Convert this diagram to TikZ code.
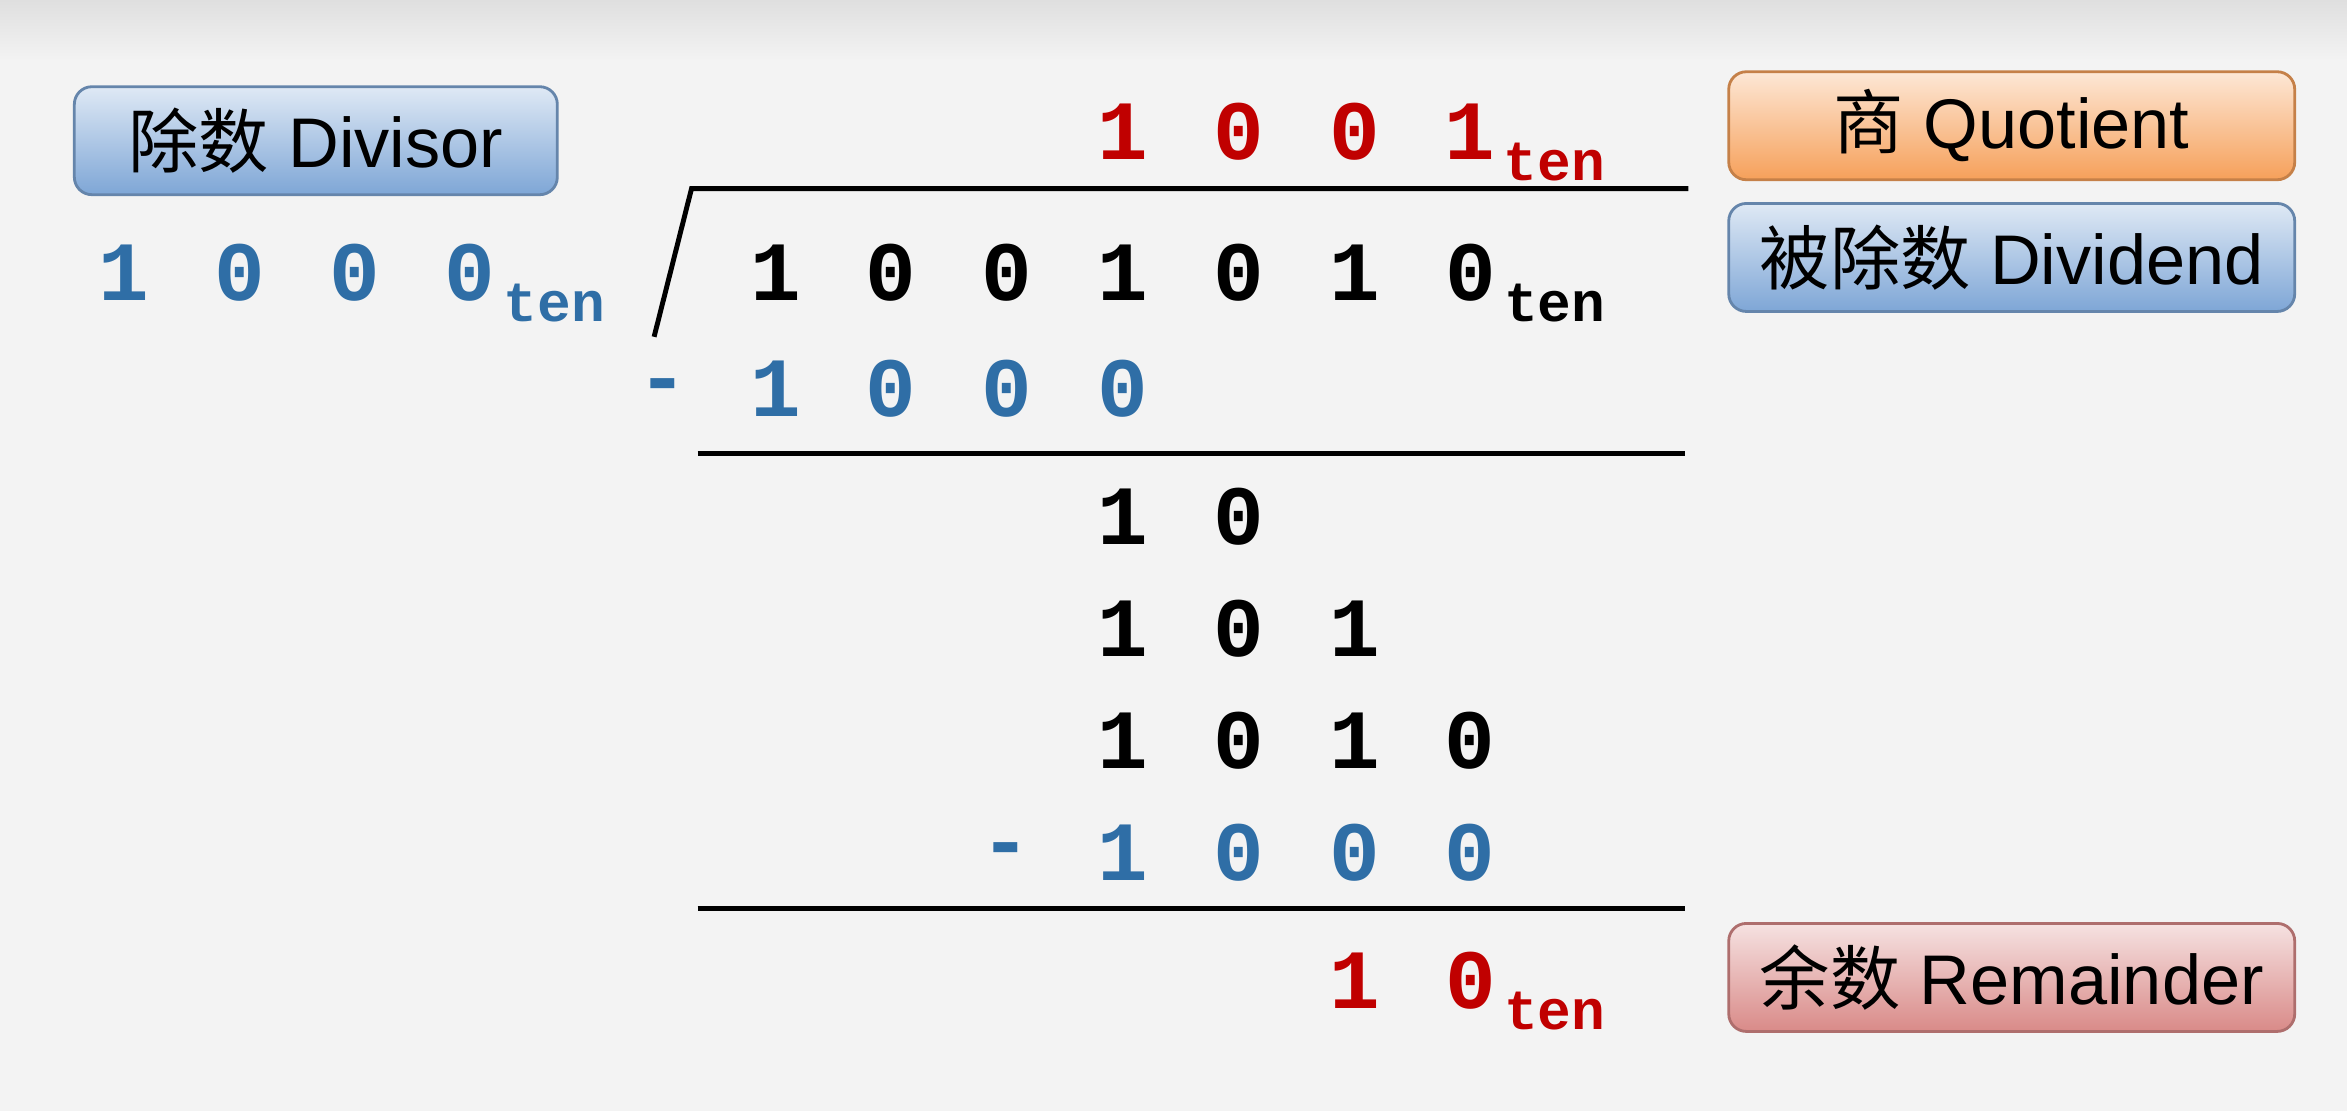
\documentclass[tikz,border=0pt]{standalone}
\usepackage{fontspec}
\setmainfont{Liberation Sans}
\setmonofont{Liberation Mono}
\newfontfamily\cjk{Noto Sans CJK SC}
\usetikzlibrary{positioning}
\definecolor{numblue}{HTML}{2F6EA6}
\definecolor{numred}{HTML}{C00000}
\definecolor{bgray}{HTML}{F3F3F3}
\definecolor{tagblue}{HTML}{7EA6D6}
\definecolor{tagorange}{HTML}{F6A05A}
\definecolor{tagred}{HTML}{D98A88}
\tikzset{
  digit/.style={font=\ttfamily\bfseries\fontsize{24}{24}\selectfont,inner sep=0pt,anchor=center},
  sub/.style={font=\ttfamily\bfseries\fontsize{16}{16}\selectfont,inner sep=0pt,anchor=base west},
  tag/.style={draw=#1!80!black,rounded corners=5pt,line width=0.8pt,minimum width=5.66cm,minimum height=1.08cm,
    top color=#1!25,bottom color=#1,font=\fontsize{20}{20}\selectfont,inner sep=0pt},
  rule/.style={line width=1.4pt}
}
\begin{document}
\begin{tikzpicture}[x=0.01497cm,y=-0.01497cm]
  \useasboundingbox (0,0) rectangle (1568,742);
  \fill[bgray] (0,0) rectangle (1568,742);
  \fill[top color=gray!25,bottom color=bgray] (0,0) rectangle (1568,40);
  % labels
  \node[tag=tagblue, minimum width=4.83cm] (divlab) at (211,94) {{\cjk 除数} Divisor};
  \node[tag=tagorange] (quolab) at (1344,84) {{\cjk 商} Quotient};
  \node[tag=tagblue] (dvdlab) at (1344,172) {{\cjk 被除数} Dividend};
  \node[tag=tagred] (remlab) at (1344,653) {{\cjk 余数} Remainder};
  % divisor
  \foreach \d [count=\i] in {1,0,0,0}
    \node[digit,text=numblue] (dv\i) at (83+77*\i-77,182) {\d};
  \node[sub,text=numblue,right=2pt of dv4.south east,anchor=south west,yshift=-6pt] (dvten) {ten};
  % quotient
  \foreach \d [count=\i] in {1,0,0,1}
    \node[digit,text=numred] (q\i) at (750+77.4*\i-77.4,88) {\d};
  \node[sub,text=numred,right=2pt of q4.south east,anchor=south west,yshift=-6pt] (qten) {ten};
  % dividend
  \foreach \d [count=\i] in {1,0,0,1,0,1,0}
    \node[digit] (n\i) at (518+77.4*\i-77.4,182) {\d};
  \node[sub,right=2pt of n7.south east,anchor=south west,yshift=-6pt] (nten) {ten};
  % first subtraction
  \node[digit,text=numblue] (m1) at (443,262) {-};
  \foreach \d [count=\i] in {1,0,0,0}
    \node[digit,text=numblue] (s\i) at (518+77.4*\i-77.4,260) {\d};
  % steps
  \foreach \d [count=\i] in {1,0}
    \node[digit] (a\i) at (750+77.4*\i-77.4,345) {\d};
  \foreach \d [count=\i] in {1,0,1}
    \node[digit] (b\i) at (750+77.4*\i-77.4,420) {\d};
  \foreach \d [count=\i] in {1,0,1,0}
    \node[digit] (c\i) at (750+77.4*\i-77.4,495) {\d};
  \node[digit,text=numblue] (m2) at (672,572) {-};
  \foreach \d [count=\i] in {1,0,0,0}
    \node[digit,text=numblue] (t\i) at (750+77.4*\i-77.4,570) {\d};
  % remainder
  \foreach \d [count=\i] in {1,0}
    \node[digit,text=numred] (r\i) at (905+77.4*\i-77.4,655) {\d};
  \node[sub,text=numred,right=2pt of r2.south east,anchor=south west,yshift=-6pt] (rten) {ten};
  % rules
  \draw[rule] (437,225) -- (462,126) -- (1128,126);
  \draw[rule] (466,303) -- (1126,303);
  \draw[rule] (466,607) -- (1126,607);
\end{tikzpicture}
\end{document}
